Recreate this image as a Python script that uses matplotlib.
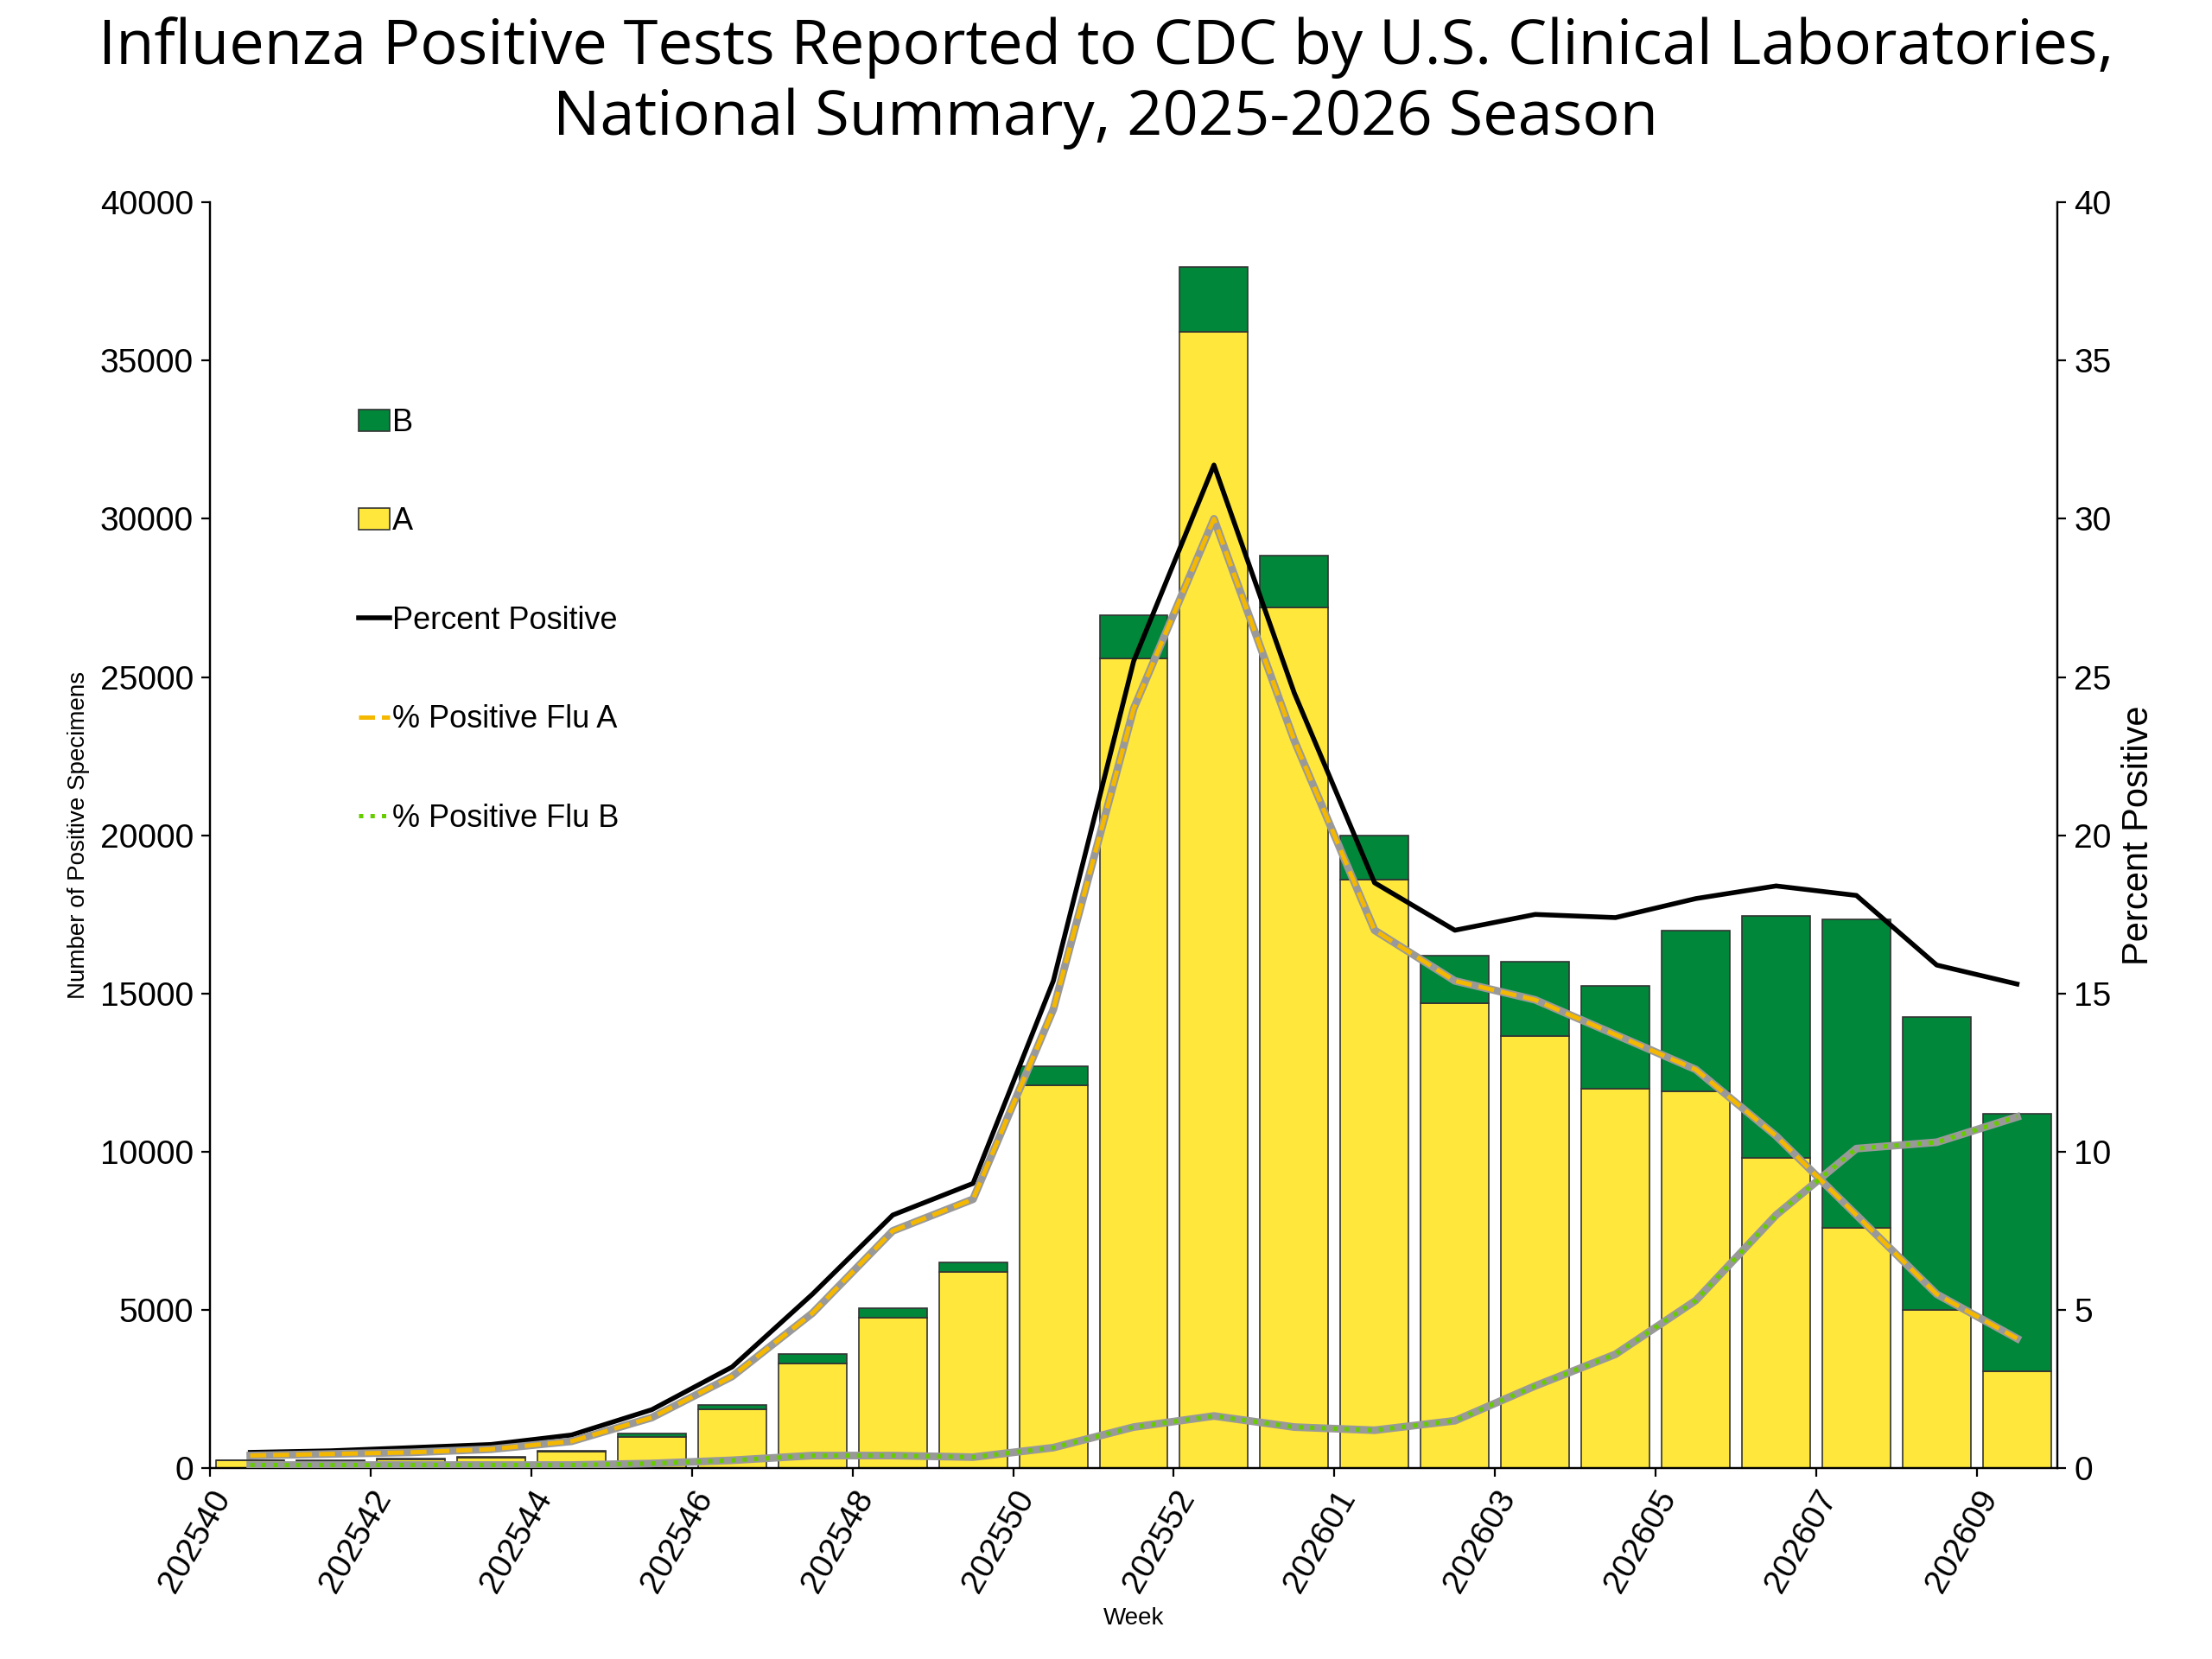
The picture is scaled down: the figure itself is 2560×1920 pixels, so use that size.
import numpy as np
import matplotlib
matplotlib.use("Agg")
import matplotlib.pyplot as plt

plt.rcParams['font.family'] = ['Liberation Sans', 'DejaVu Sans']

weeks = ['202540', '202541', '202542', '202543', '202544', '202545', '202546', '202547',
         '202548', '202549', '202550', '202551', '202552', '202553', '202601', '202602',
         '202603', '202604', '202605', '202606', '202607', '202608', '202609']
total = [250, 250, 300, 350, 550, 1100, 2000, 3600, 5050, 6500, 12700, 26950, 37950,
         28850, 20000, 16200, 16000, 15250, 17000, 17450, 17350, 14250, 11200]
flu_a = [250, 230, 280, 320, 520, 1000, 1850, 3300, 4750, 6200, 12100, 25600, 35900,
         27200, 18600, 14700, 13650, 12000, 11900, 9800, 7600, 5000, 3050]
flu_b = [t - a for t, a in zip(total, flu_a)]
pct_pos = [0.5, 0.55, 0.65, 0.75, 1.05, 1.85, 3.2, 5.5, 8.0, 9.0, 15.4, 25.5, 31.7,
           24.5, 18.5, 17.0, 17.5, 17.4, 18.0, 18.4, 18.1, 15.9, 15.3]
pct_a = [0.4, 0.45, 0.5, 0.6, 0.85, 1.6, 2.9, 4.9, 7.5, 8.5, 14.5, 24.0, 30.0,
         23.0, 17.0, 15.4, 14.8, 13.7, 12.6, 10.5, 8.0, 5.5, 4.1]
pct_b = [0.1, 0.1, 0.1, 0.1, 0.1, 0.15, 0.25, 0.4, 0.4, 0.35, 0.65, 1.3, 1.65,
         1.3, 1.2, 1.5, 2.6, 3.6, 5.3, 8.0, 10.1, 10.3, 11.1]

x = np.arange(len(weeks))
fig = plt.figure(figsize=(12.8, 9.6), dpi=200)
ax = fig.add_axes([0.095, 0.115, 0.835, 0.763])
ax2 = ax.twinx()

ax.bar(x, flu_a, width=0.85, color='#FFE83B', edgecolor='#333333', linewidth=0.6, label='A')
ax.bar(x, flu_b, bottom=flu_a, width=0.85, color='#00873A', edgecolor='#333333', linewidth=0.6, label='B')

ax2.plot(x, pct_pos, color='black', lw=2, label='Percent Positive')
ax2.plot(x, pct_a, color='#999999', lw=3.2, zorder=3)
ax2.plot(x, pct_a, color='#F5B800', lw=1.8, ls='--', label='% Positive Flu A', zorder=4)
ax2.plot(x, pct_b, color='#999999', lw=3.2, zorder=3)
ax2.plot(x, pct_b, color='#66CC00', lw=1.8, ls=':', label='% Positive Flu B', zorder=4)

ax.set_xlim(-0.5, len(weeks) - 0.5)
ax.set_ylim(0, 40000)
ax2.set_ylim(0, 40)
ax.set_yticks(np.arange(0, 40001, 5000))
ax2.set_yticks(np.arange(0, 41, 5))
ax.set_xticks(x[::2] - 0.5)
ax.set_xticklabels(weeks[::2], rotation=60, ha='right', rotation_mode='anchor', fontsize=14)
ax.tick_params(axis='y', labelsize=14)
ax2.tick_params(axis='y', labelsize=14)
ax.set_xlabel('Week', fontsize=10)
ax.set_ylabel('Number of Positive Specimens', fontsize=10)
ax2.set_ylabel('Percent Positive', fontsize=15)
for a in (ax, ax2):
    a.spines['top'].set_visible(False)

h1, l1 = ax.get_legend_handles_labels()
h2, l2 = ax2.get_legend_handles_labels()
handles = [h1[1], h1[0], h2[0], h2[1], h2[2]]
labels = [l1[1], l1[0], l2[0], l2[1], l2[2]]
ax.legend(handles, labels, loc='upper left', bbox_to_anchor=(0.065, 0.86), frameon=False,
          fontsize=13, handlelength=1.0, handletextpad=0.1, labelspacing=2.2)

fig.suptitle('Influenza Positive Tests Reported to CDC by U.S. Clinical Laboratories,\n'
             'National Summary, 2025-2026 Season', fontsize=26, y=0.99,
             fontfamily=['Open Sans', 'DejaVu Sans'])
fig.savefig('out.png', dpi=200)
